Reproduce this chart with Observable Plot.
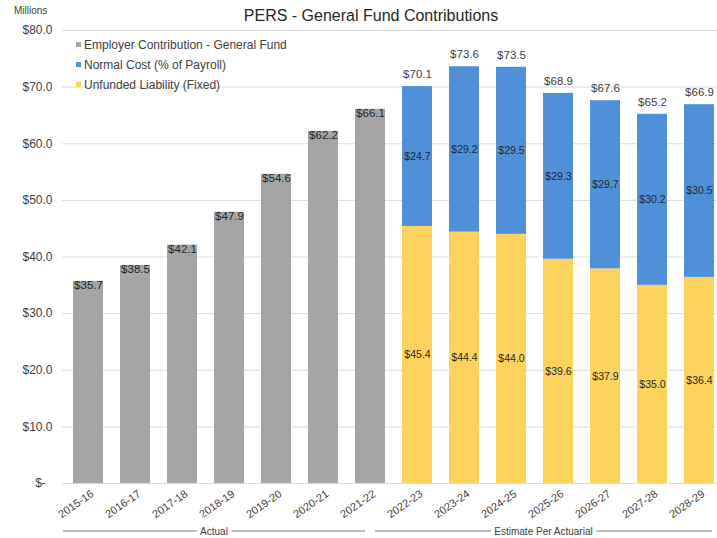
<!DOCTYPE html>
<html><head><meta charset="utf-8">
<script src="https://cdn.jsdelivr.net/npm/d3@7"></script>
<script src="https://cdn.jsdelivr.net/npm/@observablehq/plot@0.6"></script>
<style>
body{margin:0;background:#fff;font-family:"Liberation Sans",Arial,sans-serif;}
#wrap{position:relative;width:717px;height:538px;overflow:hidden;}
#wrap svg{position:absolute;left:0;top:0;}
.title{position:absolute;left:0;width:742px;top:7px;text-align:center;font-size:16px;color:#262626;}
.units{position:absolute;left:14px;top:5px;font-size:10px;color:#404040;}
.legend{position:absolute;left:76px;top:35px;font-size:12px;color:#404040;line-height:20px;}
.legend .sw{display:inline-block;width:5px;height:5px;margin-right:3px;vertical-align:middle;position:relative;top:-1px;}
</style></head><body>
<div id="wrap"></div>
<script>
const actualYears = ["2015-16","2016-17","2017-18","2018-19","2019-20","2020-21","2021-22"];
const estimateYears = ["2022-23","2023-24","2024-25","2025-26","2026-27","2027-28","2028-29"];
const employer = [35.7, 38.5, 42.1, 47.9, 54.6, 62.2, 66.1];
const unfunded = [45.4, 44.4, 44.0, 39.6, 37.9, 35.0, 36.4];
const normal = [24.7, 29.2, 29.5, 29.3, 29.7, 30.2, 30.5];
const totals = [70.1, 73.6, 73.5, 68.9, 67.6, 65.2, 66.9];
const seriesNames = ["Employer Contribution - General Fund", "Normal Cost (% of Payroll)", "Unfunded Liability (Fixed)"];
const seriesColors = ["#a5a5a5", "#4f90d8", "#fdd35e"];
const groupLabels = ["Actual", "Estimate Per Actuarial"];
const yTicks = [0, 10, 20, 30, 40, 50, 60, 70, 80];
const titleText = "PERS - General Fund Contributions";
const unitsText = "Millions";

const years = actualYears.concat(estimateYears);
const fmt = v => "$" + v.toFixed(1);

const actualRows = actualYears.map((y, i) => ({year: y, series: seriesNames[0], value: employer[i]}));
const estRows = [];
estimateYears.forEach((y, i) => {
  estRows.push({year: y, series: seriesNames[2], value: unfunded[i]});
  estRows.push({year: y, series: seriesNames[1], value: normal[i]});
});
const totalRows = estimateYears.map((y, i) => ({year: y, total: totals[i]}));

const chart = Plot.plot({
  width: 717,
  height: 538,
  marginTop: 30,
  marginBottom: 55,
  marginLeft: 62,
  marginRight: 0,
  style: {fontFamily: "'Liberation Sans', Arial, sans-serif", color: "#404040", background: "transparent"},
  x: {domain: years, range: [64, 723], paddingInner: 0.36, paddingOuter: 0.18, label: null},
  y: {domain: [0, 80], label: null},
  color: {domain: seriesNames, range: seriesColors},
  marks: [
    Plot.gridY(yTicks, {stroke: "#dcdcdc", strokeOpacity: 1}),
    Plot.ruleX([0], {frameAnchor: "left", stroke: "#e3e3e3"}),
    Plot.barY(actualRows, {x: "year", y: "value", fill: "series"}),
    Plot.barY(estRows, Plot.stackY({x: "year", y: "value", fill: "series"})),
    Plot.text(actualRows, {x: "year", y: "value", text: d => fmt(d.value), dy: 4, fontSize: 11.5, fill: "#262626"}),
    Plot.text(estRows, Plot.stackY({x: "year", y: "value", text: d => fmt(d.value), fontSize: 10.5, fill: "#262626"})),
    Plot.text(totalRows, {x: "year", y: "total", text: d => fmt(d.total), dy: -12, fontSize: 11.5, fill: "#404040"}),
    Plot.axisY(yTicks, {tickSize: 0, tickPadding: 10, fontSize: 12, tickFormat: d => d === 0 ? "$-  " : fmt(d)}),
    Plot.axisX({tickSize: 0, tickPadding: 9, tickRotate: -35, fontSize: 11, dx: 4})
  ]
});

const wrap = document.getElementById("wrap");
wrap.appendChild(chart);

const t = document.createElement("div"); t.className = "title"; t.textContent = titleText; wrap.appendChild(t);
const u = document.createElement("div"); u.className = "units"; u.textContent = unitsText; wrap.appendChild(u);
const lg = document.createElement("div"); lg.className = "legend";
seriesNames.forEach((s, i) => {
  const row = document.createElement("div");
  const sw = document.createElement("span"); sw.className = "sw"; sw.style.background = seriesColors[i];
  row.appendChild(sw); row.appendChild(document.createTextNode(s));
  lg.appendChild(row);
});
wrap.appendChild(lg);

// group labels under the axis, positioned through the x scale
const xs = chart.scale("x");
const svg = d3.select(chart);
const groupYears = [actualYears, estimateYears];
const gy = 531;
groupYears.forEach((ys, gi) => {
  const first = xs.apply(ys[0]);
  const last = xs.apply(ys[ys.length - 1]) + xs.bandwidth;
  const x0 = gi === 0 ? first - 10 : first - 27;
  const x1 = gi === 0 ? last - 20 : last - 2;
  svg.append("line").attr("x1", x0).attr("x2", x1).attr("y1", gy).attr("y2", gy)
    .attr("stroke", "#7f7f7f").attr("stroke-width", 1);
  svg.append("text").attr("x", (x0 + x1) / 2).attr("y", gy).attr("dy", "0.35em")
    .attr("text-anchor", "middle").attr("font-size", 10).attr("fill", "#404040")
    .attr("stroke", "#fff").attr("stroke-width", 8).attr("paint-order", "stroke")
    .text(groupLabels[gi]);
});
</script>
</body></html>
